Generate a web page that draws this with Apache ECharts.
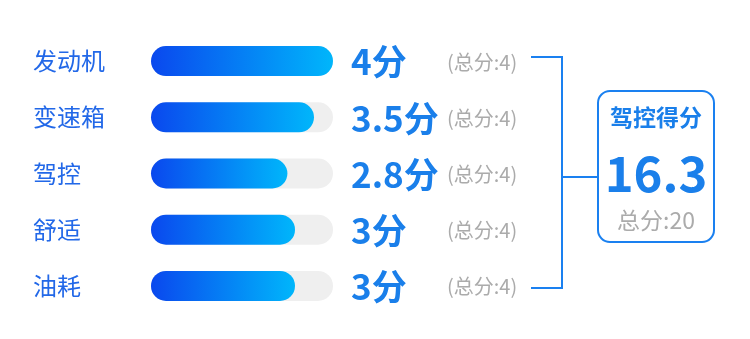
<!DOCTYPE html>
<html>
<head>
<meta charset="utf-8">
<script src="https://cdn.jsdelivr.net/npm/echarts@6/dist/echarts.min.js"></script>
<style>
html,body{margin:0;padding:0;background:#fff;}
#c{width:750px;height:339px;}
</style>
</head>
<body>
<div id="c"></div>
<script>
var categories = ['发动机', '变速箱', '驾控', '舒适', '油耗'];
var scores = [4, 3.5, 2.8, 3, 3];
var maxScores = [4, 4, 4, 4, 4];
var summaryTitle = '驾控得分';
var totalMax = 20;

var FONT = '"Noto Sans CJK SC","Noto Sans",sans-serif';
var R = 15;
var total = scores.reduce(function (a, b) { return a + b; }, 0);
var totalText = (Math.round(total * 10) / 10).toString();

var chart = echarts.init(document.getElementById('c'));

function renderBar(params, api) {
  var idx = api.value(0);
  var v = api.value(1);
  var mx = api.value(2);
  var p0 = api.coord([0, idx]);
  var p1 = api.coord([v, idx]);
  var pm = api.coord([mx, idx]);
  var h = 30;
  var y = p0[1] - h / 2;
  return {
    type: 'group',
    children: [
      {
        type: 'rect',
        shape: { x: p0[0] - R, y: y, width: pm[0] - p0[0] + 2 * R, height: h, r: R },
        style: { fill: '#efefef' }
      },
      {
        type: 'rect',
        shape: { x: p0[0] - R, y: y, width: p1[0] - p0[0] + 2 * R, height: h, r: R },
        style: {
          fill: new echarts.graphic.LinearGradient(0, 0, 1, 0, [
            { offset: 0, color: '#0a48ee' },
            { offset: 1, color: '#00b6fb' }
          ])
        }
      },
      {
        type: 'text',
        style: {
          x: pm[0] + R + 18, y: p0[1] + 1,
          text: v + '分',
          fill: '#1a7fea',
          font: 'bold 35px ' + FONT,
          verticalAlign: 'middle', align: 'left'
        }
      },
      {
        type: 'text',
        style: {
          x: pm[0] + R + 114, y: p0[1] + 1,
          text: '(总分:' + mx + ')',
          fill: '#ababab',
          font: '20px ' + FONT,
          verticalAlign: 'middle', align: 'left'
        }
      }
    ]
  };
}

var data = categories.map(function (c, i) { return [i, scores[i], maxScores[i]]; });

chart.setOption({
  animation: false,
  grid: { left: 166, width: 152, top: 33, bottom: 25 },
  xAxis: { type: 'value', min: 0, max: 4, show: false },
  yAxis: {
    type: 'category', data: categories, inverse: true,
    axisLine: { show: false }, axisTick: { show: false },
    axisLabel: { align: 'left', margin: 133, color: '#2268e8', fontSize: 24, fontFamily: FONT }
  },
  series: [{
    type: 'custom',
    renderItem: renderBar,
    encode: { x: 1, y: 0 },
    data: data
  }],
  graphic: [
    {
      type: 'polyline',
      shape: { points: [[531, 57], [562, 57], [562, 288], [531, 288]] },
      style: { stroke: '#1a80f0', lineWidth: 2, fill: null }
    },
    {
      type: 'line',
      shape: { x1: 562, y1: 177, x2: 598, y2: 177 },
      style: { stroke: '#1a80f0', lineWidth: 2 }
    },
    {
      type: 'rect',
      shape: { x: 598, y: 91, width: 116, height: 151, r: 12 },
      style: { stroke: '#1a80f0', lineWidth: 2, fill: '#fff' }
    },
    {
      type: 'text',
      style: { x: 656, y: 117, text: summaryTitle, fill: '#1a7fea', font: 'bold 23px ' + FONT, align: 'center', verticalAlign: 'middle' }
    },
    {
      type: 'text',
      style: { x: 656, y: 173, text: totalText, fill: '#1a7fea', font: 'bold 49px ' + FONT, align: 'center', verticalAlign: 'middle' }
    },
    {
      type: 'text',
      style: { x: 656, y: 220, text: '总分:' + totalMax, fill: '#ababab', font: '23px ' + FONT, align: 'center', verticalAlign: 'middle' }
    }
  ]
});
</script>
</body>
</html>
